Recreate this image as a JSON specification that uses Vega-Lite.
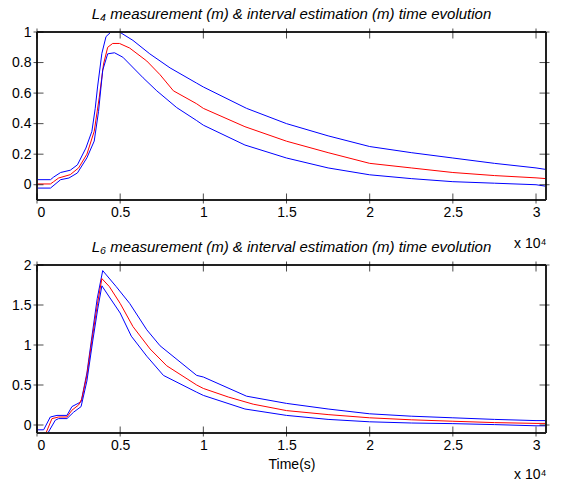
{
  "$schema": "https://vega.github.io/schema/vega-lite/v6.json",
  "background": "white",
  "padding": {"left": 7, "top": 7, "right": 5, "bottom": 0},
  "spacing": -10,
  "datasets": {
    "one": [{"k": 1}],
    "xticks": [{"t":0},{"t":5000},{"t":10000},{"t":15000},{"t":20000},{"t":25000},{"t":30000}],
    "yticks4": [{"v":0},{"v":0.2},{"v":0.4},{"v":0.6},{"v":0.8},{"v":1}],
    "yticks6": [{"v":0},{"v":0.5},{"v":1},{"v":1.5},{"v":2}]
  },
  "config": {
    "view": {"stroke": null},
    "axis": {"domain": false, "grid": false, "ticks": false, "tickSize": 0, "labelColor": "black", "labelFont": "Liberation Sans", "labelFontSize": 14, "titleFont": "Liberation Sans", "titleFontSize": 14, "titleFontWeight": "normal", "titleColor": "black"},
    "title": {"font": "Liberation Sans", "fontSize": 15, "fontStyle": "italic", "fontWeight": "normal", "color": "black", "offset": 3}
  },
  "vconcat": [
    {
      "width": 509, "height": 168,
      "title": {"text": "L₄ measurement (m) & interval estimation (m) time evolution"},
      "data": {"values": [
        {"s":"hi","t":0,"v":0.033},{"s":"hi","t":810,"v":0.033},{"s":"hi","t":1000,"v":0.05},{"s":"hi","t":1420,"v":0.08},{"s":"hi","t":2000,"v":0.095},{"s":"hi","t":2430,"v":0.13},{"s":"hi","t":2940,"v":0.24},{"s":"hi","t":3300,"v":0.35},{"s":"hi","t":3500,"v":0.5},{"s":"hi","t":3640,"v":0.64},{"s":"hi","t":3900,"v":0.86},{"s":"hi","t":4150,"v":0.97},{"s":"hi","t":4450,"v":1.0},{"s":"hi","t":4960,"v":1.0},{"s":"hi","t":5770,"v":0.945},{"s":"hi","t":6780,"v":0.857},{"s":"hi","t":8000,"v":0.765},{"s":"hi","t":9600,"v":0.665},{"s":"hi","t":10000,"v":0.64},{"s":"hi","t":12600,"v":0.5},{"s":"hi","t":15000,"v":0.4},{"s":"hi","t":17500,"v":0.32},{"s":"hi","t":20000,"v":0.25},{"s":"hi","t":22500,"v":0.21},{"s":"hi","t":25000,"v":0.175},{"s":"hi","t":27500,"v":0.14},{"s":"hi","t":30000,"v":0.11},{"s":"hi","t":30600,"v":0.1},
        {"s":"mid","t":0,"v":0.005},{"s":"mid","t":810,"v":0.005},{"s":"mid","t":1000,"v":0.02},{"s":"mid","t":1300,"v":0.044},{"s":"mid","t":2000,"v":0.066},{"s":"mid","t":2500,"v":0.11},{"s":"mid","t":3000,"v":0.2},{"s":"mid","t":3440,"v":0.35},{"s":"mid","t":3740,"v":0.57},{"s":"mid","t":4000,"v":0.79},{"s":"mid","t":4250,"v":0.9},{"s":"mid","t":4550,"v":0.925},{"s":"mid","t":4960,"v":0.925},{"s":"mid","t":5570,"v":0.895},{"s":"mid","t":6600,"v":0.81},{"s":"mid","t":7400,"v":0.72},{"s":"mid","t":8200,"v":0.615},{"s":"mid","t":9600,"v":0.53},{"s":"mid","t":10000,"v":0.5},{"s":"mid","t":12500,"v":0.38},{"s":"mid","t":15000,"v":0.285},{"s":"mid","t":17500,"v":0.21},{"s":"mid","t":20000,"v":0.14},{"s":"mid","t":22500,"v":0.11},{"s":"mid","t":25000,"v":0.08},{"s":"mid","t":27500,"v":0.06},{"s":"mid","t":30000,"v":0.045},{"s":"mid","t":30600,"v":0.04},
        {"s":"lo","t":0,"v":-0.022},{"s":"lo","t":810,"v":-0.022},{"s":"lo","t":1420,"v":0.033},{"s":"lo","t":1920,"v":0.044},{"s":"lo","t":2430,"v":0.077},{"s":"lo","t":3000,"v":0.176},{"s":"lo","t":3440,"v":0.286},{"s":"lo","t":3700,"v":0.48},{"s":"lo","t":3950,"v":0.75},{"s":"lo","t":4250,"v":0.857},{"s":"lo","t":4660,"v":0.864},{"s":"lo","t":5160,"v":0.835},{"s":"lo","t":6380,"v":0.7},{"s":"lo","t":7200,"v":0.615},{"s":"lo","t":8400,"v":0.505},{"s":"lo","t":9600,"v":0.42},{"s":"lo","t":10000,"v":0.39},{"s":"lo","t":12500,"v":0.26},{"s":"lo","t":15000,"v":0.175},{"s":"lo","t":17500,"v":0.11},{"s":"lo","t":20000,"v":0.065},{"s":"lo","t":22500,"v":0.04},{"s":"lo","t":25000,"v":0.02},{"s":"lo","t":27500,"v":0.01},{"s":"lo","t":30000,"v":0.0},{"s":"lo","t":30600,"v":-0.01}
      ]},
      "layer": [
        {
          "mark": {"type": "line", "strokeWidth": 1, "clip": true},
          "encoding": {
            "x": {"field": "t", "type": "quantitative", "scale": {"domain": [0, 30600], "nice": false, "zero": false}, "axis": {"orient": "bottom", "values": [0,5000,10000,15000,20000,25000,30000], "labelExpr": "datum.value/10000", "labelPadding": 5, "title": null}},
            "y": {"field": "v", "type": "quantitative", "scale": {"domain": [-0.1, 1], "nice": false, "zero": false}, "axis": {"orient": "left", "values": [0,0.2,0.4,0.6,0.8,1], "format": "~g", "labelPadding": 6, "minExtent": 30, "maxExtent": 30, "title": null}},
            "color": {"field": "s", "type": "nominal", "scale": {"domain": ["hi","mid","lo"], "range": ["#0000ff","#ff0000","#0000ff"]}, "legend": null}
          }
        },
        {
          "mark": {"type": "line", "strokeOpacity": 0},
          "encoding": {
            "x": {"field": "t", "type": "quantitative", "axis": {"orient": "bottom", "labels": false, "title": "x 10⁴", "titleX": 509, "titleY": 43, "titleAlign": "right", "titleBaseline": "middle"}},
            "y": {"field": "v", "type": "quantitative", "axis": null},
            "detail": {"field": "s"}
          }
        },
        {"data": {"name": "one"}, "mark": {"type": "rule", "color": "#222222", "strokeWidth": 2}, "encoding": {"x": {"datum": 0, "axis": null}, "x2": {"datum": 30600}, "y": {"datum": -0.1, "axis": null}}},
        {"data": {"name": "one"}, "mark": {"type": "rule", "color": "#222222", "strokeWidth": 2}, "encoding": {"x": {"datum": 0, "axis": null}, "x2": {"datum": 30600}, "y": {"datum": 1, "axis": null}}},
        {"data": {"name": "one"}, "mark": {"type": "rule", "color": "#222222", "strokeWidth": 2}, "encoding": {"x": {"datum": 0, "axis": null}, "y": {"datum": -0.1, "axis": null}, "y2": {"datum": 1}}},
        {"data": {"name": "one"}, "mark": {"type": "rule", "color": "#222222", "strokeWidth": 2}, "encoding": {"x": {"datum": 30600, "axis": null}, "y": {"datum": -0.1, "axis": null}, "y2": {"datum": 1}}},
        {
          "data": {"name": "xticks"},
          "mark": {"type": "tick", "orient": "vertical", "color": "#000000", "thickness": 1, "size": 10, "yOffset": -1.5},
          "encoding": {"x": {"field": "t", "type": "quantitative", "axis": null}, "y": {"datum": -0.1, "axis": null}}
        },
        {
          "data": {"name": "xticks"},
          "mark": {"type": "tick", "orient": "vertical", "color": "#000000", "thickness": 1, "size": 10, "yOffset": 1.5},
          "encoding": {"x": {"field": "t", "type": "quantitative", "axis": null}, "y": {"datum": 1, "axis": null}}
        },
        {
          "data": {"name": "yticks4"},
          "mark": {"type": "tick", "orient": "horizontal", "color": "#000000", "thickness": 1, "size": 10, "xOffset": 1.5},
          "encoding": {"y": {"field": "v", "type": "quantitative", "axis": null}, "x": {"datum": 0, "axis": null}}
        },
        {
          "data": {"name": "yticks4"},
          "mark": {"type": "tick", "orient": "horizontal", "color": "#000000", "thickness": 1, "size": 10, "xOffset": -1.5},
          "encoding": {"y": {"field": "v", "type": "quantitative", "axis": null}, "x": {"datum": 30600, "axis": null}}
        }
      ],
      "resolve": {"axis": {"x": "independent", "y": "independent"}}
    },
    {
      "width": 509, "height": 168,
      "title": {"text": "L₆  measurement (m) & interval estimation (m) time evolution"},
      "data": {"values": [
        {"s":"hi","t":0,"v":-0.06},{"s":"hi","t":400,"v":-0.06},{"s":"hi","t":800,"v":0.1},{"s":"hi","t":1200,"v":0.12},{"s":"hi","t":1800,"v":0.12},{"s":"hi","t":2100,"v":0.23},{"s":"hi","t":2650,"v":0.29},{"s":"hi","t":3000,"v":0.65},{"s":"hi","t":3330,"v":1.15},{"s":"hi","t":3620,"v":1.58},{"s":"hi","t":3950,"v":1.93},{"s":"hi","t":4760,"v":1.73},{"s":"hi","t":5570,"v":1.52},{"s":"hi","t":6600,"v":1.19},{"s":"hi","t":7400,"v":0.99},{"s":"hi","t":9600,"v":0.62},{"s":"hi","t":10000,"v":0.6},{"s":"hi","t":12600,"v":0.36},{"s":"hi","t":15000,"v":0.27},{"s":"hi","t":17500,"v":0.2},{"s":"hi","t":20000,"v":0.14},{"s":"hi","t":22500,"v":0.11},{"s":"hi","t":25000,"v":0.09},{"s":"hi","t":27500,"v":0.07},{"s":"hi","t":30000,"v":0.055},{"s":"hi","t":30600,"v":0.055},
        {"s":"mid","t":0,"v":-0.12},{"s":"mid","t":500,"v":-0.12},{"s":"mid","t":900,"v":0.08},{"s":"mid","t":1300,"v":0.1},{"s":"mid","t":1800,"v":0.1},{"s":"mid","t":2100,"v":0.185},{"s":"mid","t":2500,"v":0.25},{"s":"mid","t":2700,"v":0.33},{"s":"mid","t":3000,"v":0.62},{"s":"mid","t":3340,"v":1.11},{"s":"mid","t":3640,"v":1.52},{"s":"mid","t":3900,"v":1.83},{"s":"mid","t":4350,"v":1.73},{"s":"mid","t":5000,"v":1.52},{"s":"mid","t":5770,"v":1.23},{"s":"mid","t":6800,"v":0.95},{"s":"mid","t":7800,"v":0.74},{"s":"mid","t":9600,"v":0.5},{"s":"mid","t":10000,"v":0.457},{"s":"mid","t":11500,"v":0.35},{"s":"mid","t":13000,"v":0.26},{"s":"mid","t":15000,"v":0.18},{"s":"mid","t":17500,"v":0.13},{"s":"mid","t":20000,"v":0.09},{"s":"mid","t":22500,"v":0.065},{"s":"mid","t":25000,"v":0.047},{"s":"mid","t":27500,"v":0.03},{"s":"mid","t":30000,"v":0.02},{"s":"mid","t":30600,"v":0.02},
        {"s":"lo","t":0,"v":-0.12},{"s":"lo","t":600,"v":-0.12},{"s":"lo","t":1100,"v":0.06},{"s":"lo","t":1300,"v":0.08},{"s":"lo","t":1800,"v":0.08},{"s":"lo","t":2200,"v":0.16},{"s":"lo","t":2650,"v":0.23},{"s":"lo","t":3000,"v":0.55},{"s":"lo","t":3350,"v":1.05},{"s":"lo","t":3650,"v":1.45},{"s":"lo","t":3900,"v":1.74},{"s":"lo","t":4350,"v":1.6},{"s":"lo","t":5000,"v":1.4},{"s":"lo","t":5670,"v":1.11},{"s":"lo","t":6600,"v":0.86},{"s":"lo","t":7600,"v":0.62},{"s":"lo","t":9600,"v":0.41},{"s":"lo","t":10000,"v":0.37},{"s":"lo","t":12500,"v":0.2},{"s":"lo","t":15000,"v":0.12},{"s":"lo","t":17500,"v":0.07},{"s":"lo","t":20000,"v":0.04},{"s":"lo","t":22500,"v":0.025},{"s":"lo","t":25000,"v":0.017},{"s":"lo","t":27500,"v":0.005},{"s":"lo","t":30000,"v":-0.01},{"s":"lo","t":30600,"v":-0.01}
      ]},
      "layer": [
        {
          "mark": {"type": "line", "strokeWidth": 1, "clip": true},
          "encoding": {
            "x": {"field": "t", "type": "quantitative", "scale": {"domain": [0, 30600], "nice": false, "zero": false}, "axis": {"orient": "bottom", "values": [0,5000,10000,15000,20000,25000,30000], "labelExpr": "datum.value/10000", "labelPadding": 5, "title": "Time(s)", "titleX": 254.5, "titleY": 31, "titleAlign": "center", "titleBaseline": "middle"}},
            "y": {"field": "v", "type": "quantitative", "scale": {"domain": [-0.1, 2], "nice": false, "zero": false}, "axis": {"orient": "left", "values": [0,0.5,1,1.5,2], "format": "~g", "labelPadding": 6, "minExtent": 30, "maxExtent": 30, "title": null}},
            "color": {"field": "s", "type": "nominal", "scale": {"domain": ["hi","mid","lo"], "range": ["#0000ff","#ff0000","#0000ff"]}, "legend": null}
          }
        },
        {
          "mark": {"type": "line", "strokeOpacity": 0},
          "encoding": {
            "x": {"field": "t", "type": "quantitative", "axis": {"orient": "bottom", "labels": false, "title": "x 10⁴", "titleX": 509, "titleY": 41, "titleAlign": "right", "titleBaseline": "middle"}},
            "y": {"field": "v", "type": "quantitative", "axis": null},
            "detail": {"field": "s"}
          }
        },
        {"data": {"name": "one"}, "mark": {"type": "rule", "color": "#222222", "strokeWidth": 2}, "encoding": {"x": {"datum": 0, "axis": null}, "x2": {"datum": 30600}, "y": {"datum": -0.1, "axis": null}}},
        {"data": {"name": "one"}, "mark": {"type": "rule", "color": "#222222", "strokeWidth": 2}, "encoding": {"x": {"datum": 0, "axis": null}, "x2": {"datum": 30600}, "y": {"datum": 2, "axis": null}}},
        {"data": {"name": "one"}, "mark": {"type": "rule", "color": "#222222", "strokeWidth": 2}, "encoding": {"x": {"datum": 0, "axis": null}, "y": {"datum": -0.1, "axis": null}, "y2": {"datum": 2}}},
        {"data": {"name": "one"}, "mark": {"type": "rule", "color": "#222222", "strokeWidth": 2}, "encoding": {"x": {"datum": 30600, "axis": null}, "y": {"datum": -0.1, "axis": null}, "y2": {"datum": 2}}},
        {
          "data": {"name": "xticks"},
          "mark": {"type": "tick", "orient": "vertical", "color": "#000000", "thickness": 1, "size": 10, "yOffset": -1.5},
          "encoding": {"x": {"field": "t", "type": "quantitative", "axis": null}, "y": {"datum": -0.1, "axis": null}}
        },
        {
          "data": {"name": "xticks"},
          "mark": {"type": "tick", "orient": "vertical", "color": "#000000", "thickness": 1, "size": 10, "yOffset": 1.5},
          "encoding": {"x": {"field": "t", "type": "quantitative", "axis": null}, "y": {"datum": 2, "axis": null}}
        },
        {
          "data": {"name": "yticks6"},
          "mark": {"type": "tick", "orient": "horizontal", "color": "#000000", "thickness": 1, "size": 10, "xOffset": 1.5},
          "encoding": {"y": {"field": "v", "type": "quantitative", "axis": null}, "x": {"datum": 0, "axis": null}}
        },
        {
          "data": {"name": "yticks6"},
          "mark": {"type": "tick", "orient": "horizontal", "color": "#000000", "thickness": 1, "size": 10, "xOffset": -1.5},
          "encoding": {"y": {"field": "v", "type": "quantitative", "axis": null}, "x": {"datum": 30600, "axis": null}}
        }
      ],
      "resolve": {"axis": {"x": "independent", "y": "independent"}}
    }
  ]
}
